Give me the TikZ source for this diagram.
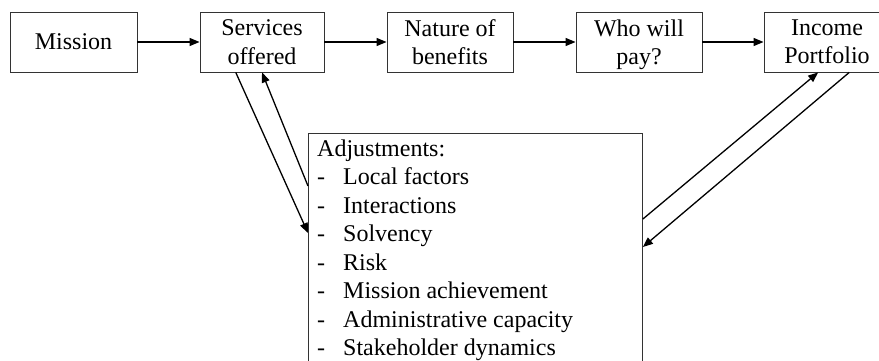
\documentclass[tikz,border=0pt]{standalone}
\usepackage{fontspec}
\setmainfont{Liberation Serif}
\usetikzlibrary{arrows.meta,calc}

\tikzset{
  stagebox/.style={draw=black!80, line width=0.9pt, minimum width=126pt, minimum height=60pt,
    align=center, inner sep=0pt, font=\fontsize{24}{28.5}\selectfont},
  flow/.style={line width=1.3pt, -{Triangle[length=10pt,width=8pt]}},
  listtext/.style={anchor=base west, inner sep=0pt, font=\fontsize{24}{28.5}\selectfont}
}

\begin{document}
\begin{tikzpicture}[x=1pt,y=1pt]
\useasboundingbox (0,0) rectangle (879,360);
\clip (0,0) rectangle (879,360);

% main chain of stages
\node[stagebox, minimum width=127pt] (mis) at (73.5,318) {Mission};
\node[stagebox, minimum width=124pt] (svc) at (262,318) {Services\\offered};
\node[stagebox] (nat) at (450,318) {Nature of\\benefits};
\node[stagebox] (who) at (639,318) {Who will\\\smash{pay?}};
\node[stagebox] (inc) at (827,318) {Income\\Portfolio};

\draw[flow] (mis) -- (svc);
\draw[flow] (svc) -- (nat);
\draw[flow] (nat) -- (who);
\draw[flow] (who) -- (inc);

% adjustments box (runs past the lower edge)
\node[draw=black!80, line width=0.9pt, minimum width=334pt, minimum height=260pt,
  anchor=north west, inner sep=0pt] (adj) at (308,227) {};

\node[listtext] (head) at (317,204) {Adjustments:};
\foreach \t [count=\i] in {Local factors, Interactions, Solvency, Risk,
    Mission achievement, Administrative capacity, Stakeholder dynamics} {
  \node[listtext] (dash\i) at (317,{204-28.5*\i}) {-};
  \node[listtext] (item\i) at (343,{204-28.5*\i}) {\t};
}

% feedback between services and adjustments
\draw[flow] ($(svc.south west)!0.29!(svc.south east)$) -- ($(adj.north west)+(0,-100)$);
\draw[flow] ($(adj.north west)+(0,-53)$) -- ($(svc.south west)!0.5!(svc.south east)$);

% feedback between adjustments and income portfolio
\draw[flow] ($(adj.north east)+(0,-86)$) -- ($(inc.south west)!0.43!(inc.south east)$);
\draw[flow] ($(inc.south west)!0.675!(inc.south east)$) -- ($(adj.north east)+(0,-114)$);
\end{tikzpicture}
\end{document}
